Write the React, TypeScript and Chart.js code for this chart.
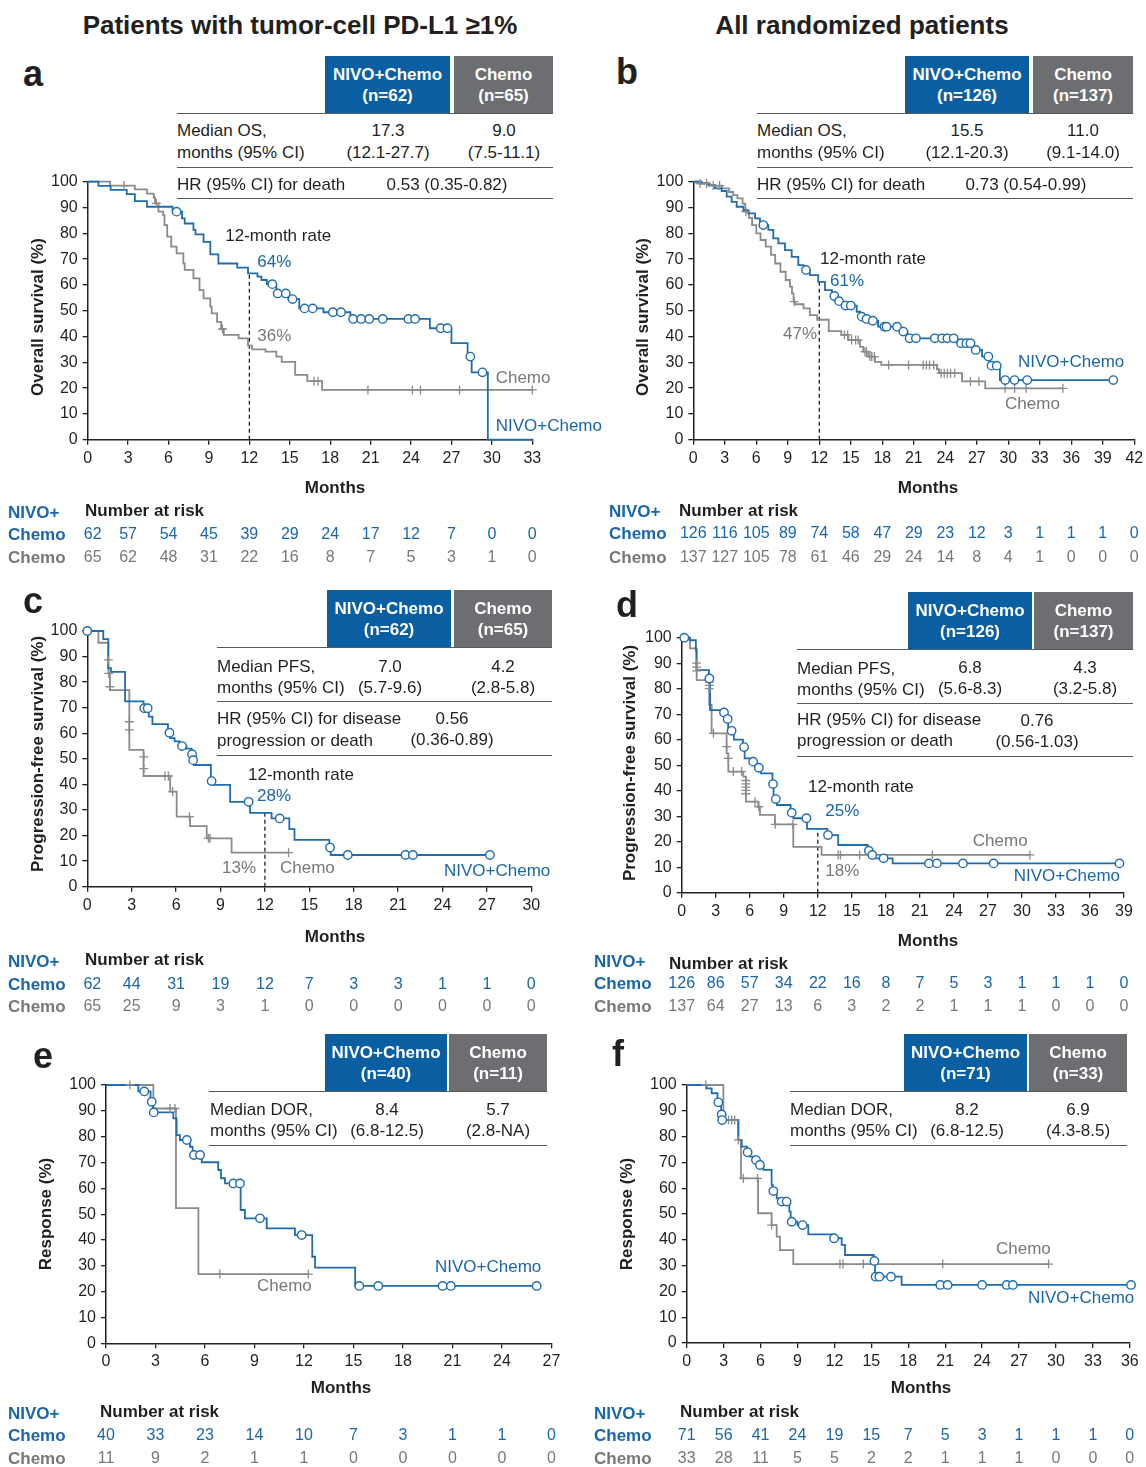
import React, { useEffect, useRef } from 'react';
import { Chart, registerables } from 'chart.js';

Chart.register(...registerables);

const FONT = "'Liberation Sans', Arial, Helvetica, sans-serif";
const BLUE = '#1f6cb0';
const BLUE_TEXT = '#1a66ab';
const BLUE_BOX = '#0a5fa3';
const GRAY_BOX = '#6d6e71';
const GRAY_LINE = '#8a8b8d';
const GRAY_TEXT = '#77787b';
const TXT = '#231f20';
const RULE = '#58595b';

Chart.defaults.font.family = FONT;

type Pt = [number, number];
type Cens = number | Pt;

// ---------------- Panel a: OS, PD-L1 >= 1% ----------------
const aNivoCurve: Pt[] = [[0,100],[0.8,98.4],[1.7,96.8],[2.9,95.2],[3.5,92.5],[4.4,90.3],[6.3,88.4],[7.0,85.8],[7.2,83.8],[7.85,81.3],[8.0,79.6],[8.6,76.7],[9.1,71.8],[9.7,68.3],[11.1,66.7],[11.9,64.5],[12.6,63.2],[12.9,61.9],[13.3,60.3],[14.0,56.7],[14.9,54.5],[15.7,50.9],[17.5,49.4],[19.5,46.8],[25.4,43.2],[27.0,37.4],[28.2,32.2],[28.5,26.1],[29.7,0],[33,0]];
const aNivoCensor: Cens[] = [6.6,13.7,14.1,14.7,15.2,16.1,16.7,18.2,18.8,19.7,20.3,20.9,21.9,23.8,24.3,26.2,26.7,28.4,29.3];
const aChemoCurve: Pt[] = [[0,100],[1.66,98.5],[3.5,97.0],[4.4,95.4],[4.9,93.8],[5.0,91.6],[5.25,88.4],[5.6,87.0],[5.7,83.2],[5.9,78.7],[6.2,74.8],[6.6,72.2],[7.1,68.3],[7.2,65.8],[7.85,62.5],[8.3,58.0],[8.6,54.8],[9.1,51.6],[9.2,49.0],[9.6,45.7],[9.9,42.9],[10.1,40.6],[11.2,39.3],[11.9,36.5],[12.2,35.0],[13.2,34.1],[14.0,32.2],[14.4,30.2],[15.4,25.1],[16.3,22.7],[17.4,19.3],[33,19.3]];
const aChemoCensor: Cens[] = [2.7,5.1,10.0,16.8,17.1,20.8,24.1,24.7,27.6,33];
const aRiskNivo = [62,57,54,45,39,29,24,17,12,7,0,0];
const aRiskChemo = [65,62,48,31,22,16,8,7,5,3,1,0];

// ---------------- Panel b: OS, all randomized ----------------
const bNivoCurve: Pt[] = [[0,100],[0.8,99.4],[1.43,98.7],[2.07,97.4],[2.7,96.4],[3.18,94.2],[3.65,92.2],[4.13,90.3],[4.77,89.0],[5.24,87.7],[5.88,85.8],[6.35,83.2],[7.15,81.3],[7.62,78.0],[8.1,76.1],[8.73,73.5],[9.37,70.9],[10.0,67.7],[10.5,65.8],[11.1,63.8],[11.9,61.2],[12.54,58.0],[13.2,55.7],[13.65,53.7],[14.3,52.0],[15.56,49.6],[15.9,47.7],[16.4,46.8],[16.9,46.1],[17.6,43.8],[19.8,41.9],[20.4,39.3],[25.1,37.4],[26.7,34.8],[27.5,32.2],[28.25,28.7],[29.2,23.1],[40.0,23.1]];
const bNivoCensor: Cens[] = [6.67,10.73,13.43,13.88,14.5,15.0,16.04,16.5,17.1,18.2,18.4,19.4,20.0,20.6,21.2,23.0,23.7,24.2,24.8,25.5,26.0,26.4,26.9,28.1,28.4,28.9,29.7,30.6,31.8,40.0];
const bChemoCurve: Pt[] = [[0,100],[0.5,99.3],[1.5,98.5],[2.7,97.4],[3.4,96.0],[3.8,94.8],[4.2,93.5],[4.7,91.5],[4.95,88.4],[5.3,86.0],[5.6,83.2],[6.0,80.0],[6.4,77.4],[6.9,74.8],[7.4,71.6],[7.8,68.3],[8.3,65.1],[8.8,61.9],[9.2,59.3],[9.4,56.7],[9.55,53.5],[9.68,52.5],[10.5,50.9],[11.1,48.3],[11.8,46.5],[12.9,42.1],[14.1,40.6],[14.76,38.6],[15.88,36.0],[16.19,34.1],[16.67,32.2],[17.3,30.2],[17.9,29.0],[23.2,27.3],[23.4,25.8],[25.6,22.6],[27.8,19.9],[35.2,19.9]];
const bChemoCensor: Cens[] = [0.64,1.27,1.9,2.5,5.0,9.6,14.4,14.7,15.08,15.46,15.7,16.35,16.5,16.83,17.0,17.24,18.6,20.5,21.9,22.2,22.5,22.9,23.6,23.9,24.2,24.5,24.9,26.4,27.2,29.7,30.6,31.7,35.2];
const bRiskNivo = [126,116,105,89,74,58,47,29,23,12,3,1,1,1,0];
const bRiskChemo = [137,127,105,78,61,46,29,24,14,8,4,1,0,0,0];

// ---------------- Panel c: PFS, PD-L1 >= 1% ----------------
const cNivoCurve: Pt[] = [[0,100],[1.08,96.8],[1.42,85.5],[1.6,84.0],[2.55,72.5],[3.8,69.8],[4.15,66.5],[4.4,63.6],[5.45,60.2],[5.6,58.1],[5.9,56.8],[6.25,55.0],[6.7,54.0],[7.05,51.8],[7.12,49.5],[7.2,47.6],[8.35,41.3],[8.5,39.8],[9.65,33.2],[11.0,28.9],[12.45,26.7],[13.65,22.5],[14.0,18.3],[16.35,15.3],[16.45,12.4],[27.2,12.4]];
const cNivoCensor: Cens[] = [0,3.85,4.08,5.55,6.4,7.08,7.15,8.4,10.9,13.0,16.4,17.6,21.5,22.0,27.2];
const cChemoCurve: Pt[] = [[0,100],[0.75,95.4],[1.42,83.4],[1.53,76.9],[2.84,53.5],[3.8,43.3],[5.6,37.2],[6.04,27.4],[6.94,23.7],[8.07,18.9],[9.75,13.3],[13.6,13.3]];
const cChemoCensor: Cens[] = [[1.42,88.7],1.45,[1.53,78.2],[2.84,64.5],[2.84,61.3],[3.82,50.8],[3.82,46.2],5.25,5.48,5.77,6.9,8.18,8.29,13.6];
const cRiskNivo = [62,44,31,19,12,7,3,3,1,1,0];
const cRiskChemo = [65,25,9,3,1,0,0,0,0,0,0];

// ---------------- Panel d: PFS, all randomized ----------------
const dNivoCurve: Pt[] = [[0,100],[0.7,99.0],[1.25,95.0],[1.3,87.3],[2.4,84.0],[2.5,71.6],[3.6,70.7],[3.9,68.1],[4.1,63.5],[4.6,60.0],[5.4,57.1],[5.55,52.7],[6.2,51.4],[6.6,49.0],[7.0,46.8],[8.0,42.6],[8.1,36.7],[8.4,34.4],[9.6,31.4],[9.85,29.2],[11.05,25.0],[12.85,22.6],[13.8,18.7],[16.4,16.5],[16.6,14.8],[16.85,13.5],[18.6,11.5],[38.6,11.5]];
const dNivoCensor: Cens[] = [0.23,2.44,3.73,4.05,4.4,5.5,6.3,6.8,8.05,8.3,9.7,11.0,12.9,16.5,16.8,17.8,21.8,22.5,24.8,27.5,38.6];
const dChemoCurve: Pt[] = [[0,100],[0.73,95.8],[1.32,83.4],[2.43,73.6],[2.64,62.5],[3.96,54.6],[4.11,47.5],[5.43,45.5],[5.66,35.7],[6.75,33.7],[6.9,30.5],[8.22,26.8],[9.84,18.0],[12.33,14.8],[30.7,14.8]];
const dChemoCensor: Cens[] = [[1.32,90.0],[1.32,88.5],[1.32,87.0],[2.43,82.6],[2.43,81.3],[2.43,80.0],2.8,[3.96,57.3],[4.11,52.7],4.55,5.28,[5.66,44.0],[5.66,42.7],[5.66,41.4],[5.66,40.1],[5.66,38.8],6.46,6.8,8.25,9.8,13.8,14.0,15.7,22.1,30.7];
const dRiskNivo = [126,86,57,34,22,16,8,7,5,3,1,1,1,0];
const dRiskChemo = [137,64,27,13,6,3,2,2,1,1,1,0,0,0];

// ---------------- Panel e: DOR, PD-L1 >= 1% ----------------
const eNivoCurve: Pt[] = [[0,100],[1.96,97.5],[2.7,93.5],[2.85,89.4],[4.08,87.1],[4.28,80.6],[4.48,78.7],[5.09,76.1],[5.25,72.9],[5.8,70.1],[6.8,67.1],[6.97,63.9],[7.21,61.9],[8.16,51.6],[8.42,48.4],[9.74,44.5],[11.45,41.9],[12.5,33.5],[12.67,29.3],[15.1,22.2],[26.1,22.2]];
const eNivoCensor: Cens[] = [2.32,2.77,2.89,4.9,5.33,5.7,7.72,8.12,9.33,11.86,15.35,16.5,20.4,20.9,26.1];
const eChemoCurve: Pt[] = [[0,100],[2.87,90.9],[4.24,52.3],[5.6,26.8],[12.26,26.8]];
const eChemoCensor: Cens[] = [1.45,3.88,4.18,6.9,12.26];
const eRiskNivo = [40,33,23,14,10,7,3,1,1,0];
const eRiskChemo = [11,9,2,1,1,0,0,0,0,0];

// ---------------- Panel f: DOR, all randomized ----------------
const fNivoCurve: Pt[] = [[0,100],[1.62,98.7],[2.03,96.8],[2.5,93.3],[2.8,88.6],[2.87,86.4],[4.19,78.7],[4.47,76.1],[4.9,73.9],[5.14,72.2],[5.5,70.9],[5.8,69.0],[6.23,67.1],[6.9,61.2],[7.0,58.9],[7.31,56.1],[7.5,54.8],[8.34,50.9],[8.45,47.0],[9.0,45.7],[9.88,42.1],[11.8,40.6],[12.59,38.0],[12.86,34.1],[15.2,31.8],[15.3,25.7],[17.46,22.5],[36.1,22.5]];
const fNivoCensor: Cens[] = [2.57,2.84,2.88,4.95,5.63,5.95,7.04,7.72,8.12,8.53,9.42,11.97,15.25,15.35,15.65,16.6,20.6,21.2,24.0,26.0,26.5,36.1];
const fChemoCurve: Pt[] = [[0,100],[2.98,86.4],[4.2,78.7],[4.41,63.8],[5.8,50.3],[6.9,45.7],[7.31,41.2],[7.58,36.0],[8.66,30.6],[29.4,30.6]];
const fChemoCensor: Cens[] = [1.55,3.4,3.65,3.9,4.2,4.6,5.75,6.9,12.45,12.7,14.35,20.8,29.4];
const fRiskNivo = [71,56,41,24,19,15,7,5,3,1,1,1,0];
const fRiskChemo = [33,28,11,5,5,2,2,1,1,1,0,0,0];

// ---------------- helpers ----------------
function survAt(curve: Pt[], t: number): number {
  let s = curve[0][1];
  for (const [ti, si] of curve) {
    if (ti <= t + 1e-9) s = si;
    else break;
  }
  return s;
}

interface Note { text: string; t: number; s: number; color: string; }
interface PanelCfg {
  id: string;
  ox: number; oy: number; w: number; h: number;
  padTop: number; padRight: number; padBottom: number; yWidth: number;
  xMax: number;
  nivo: Pt[]; chemo: Pt[]; nivoCens: Cens[]; chemoCens: Cens[];
  riskNivo: number[]; riskChemo: number[];
  landmark: boolean;
  yTitle: string; yTitlePos: [number, number]; xTitlePos: [number, number];
  riskLabelX: number; riskHead: [number, number]; riskYs: [number, number, number]; riskShift: number;
  notes: Note[];
}

const panels: PanelCfg[] = [
  {
    id: 'a', ox: 0, oy: 170, w: 620, h: 405, padTop: 11.7, padRight: 87.7, padBottom: 85.3, yWidth: 87.7, xMax: 33,
    nivo: aNivoCurve, chemo: aChemoCurve, nivoCens: aNivoCensor, chemoCens: aChemoCensor,
    riskNivo: aRiskNivo, riskChemo: aRiskChemo, landmark: true,
    yTitle: 'Overall survival (%)', yTitlePos: [38, 317], xTitlePos: [335, 488],
    riskLabelX: 8, riskHead: [85, 511], riskYs: [513, 535, 558], riskShift: 5,
    notes: [
      { text: '12-month rate', t: 10.21, s: 78.9, color: TXT },
      { text: '64%', t: 12.59, s: 68.9, color: BLUE_TEXT },
      { text: '36%', t: 12.59, s: 40.2, color: GRAY_TEXT },
      { text: 'Chemo', t: 30.28, s: 23.9, color: GRAY_TEXT },
      { text: 'NIVO+Chemo', t: 30.28, s: 5.3, color: BLUE_TEXT },
    ],
  },
  {
    id: 'b', ox: 580, oy: 170, w: 566, h: 405, padTop: 11.7, padRight: 11.7, padBottom: 85.3, yWidth: 113.3, xMax: 42,
    nivo: bNivoCurve, chemo: bChemoCurve, nivoCens: bNivoCensor, chemoCens: bChemoCensor,
    riskNivo: bRiskNivo, riskChemo: bRiskChemo, landmark: true,
    yTitle: 'Overall survival (%)', yTitlePos: [643, 317], xTitlePos: [928, 488],
    riskLabelX: 609, riskHead: [679, 511], riskYs: [512, 534, 558], riskShift: 0,
    notes: [
      { text: '12-month rate', t: 12.07, s: 70.0, color: TXT },
      { text: '61%', t: 13.02, s: 61.5, color: BLUE_TEXT },
      { text: '47%', t: 8.54, s: 41.0, color: GRAY_TEXT },
      { text: 'NIVO+Chemo', t: 30.92, s: 30.1, color: BLUE_TEXT },
      { text: 'Chemo', t: 29.69, s: 13.8, color: GRAY_TEXT },
    ],
  },
  {
    id: 'c', ox: 0, oy: 600, w: 620, h: 420, padTop: 31, padRight: 88.7, padBottom: 83.3, yWidth: 87.3, xMax: 30,
    nivo: cNivoCurve, chemo: cChemoCurve, nivoCens: cNivoCensor, chemoCens: cChemoCensor,
    riskNivo: cRiskNivo, riskChemo: cRiskChemo, landmark: true,
    yTitle: 'Progression-free survival (%)', yTitlePos: [38, 754], xTitlePos: [335, 937],
    riskLabelX: 8, riskHead: [85, 960], riskYs: [962, 985, 1007], riskShift: 5,
    notes: [
      { text: '12-month rate', t: 10.86, s: 43.7, color: TXT },
      { text: '28%', t: 11.47, s: 35.5, color: BLUE_TEXT },
      { text: '13%', t: 9.10, s: 7.3, color: GRAY_TEXT },
      { text: 'Chemo', t: 13.02, s: 7.3, color: GRAY_TEXT },
      { text: 'NIVO+Chemo', t: 24.1, s: 6.1, color: BLUE_TEXT },
    ],
  },
  {
    id: 'd', ox: 580, oy: 600, w: 566, h: 420, padTop: 37.7, padRight: 22, padBottom: 77.3, yWidth: 101.7, xMax: 39,
    nivo: dNivoCurve, chemo: dChemoCurve, nivoCens: dNivoCensor, chemoCens: dChemoCensor,
    riskNivo: dRiskNivo, riskChemo: dRiskChemo, landmark: true,
    yTitle: 'Progression-free survival (%)', yTitlePos: [630, 763], xTitlePos: [928, 941],
    riskLabelX: 594, riskHead: [669, 964], riskYs: [962, 984, 1007], riskShift: 0,
    notes: [
      { text: '12-month rate', t: 11.13, s: 41.5, color: TXT },
      { text: '25%', t: 12.66, s: 32.0, color: BLUE_TEXT },
      { text: '18%', t: 12.66, s: 8.5, color: GRAY_TEXT },
      { text: 'Chemo', t: 25.67, s: 20.3, color: GRAY_TEXT },
      { text: 'NIVO+Chemo', t: 29.28, s: 6.5, color: BLUE_TEXT },
    ],
  },
  {
    id: 'e', ox: 0, oy: 1070, w: 620, h: 397, padTop: 15, padRight: 68.5, padBottom: 73.7, yWidth: 106, xMax: 27,
    nivo: eNivoCurve, chemo: eChemoCurve, nivoCens: eNivoCensor, chemoCens: eChemoCensor,
    riskNivo: eRiskNivo, riskChemo: eRiskChemo, landmark: false,
    yTitle: 'Response (%)', yTitlePos: [46, 1214], xTitlePos: [341, 1388],
    riskLabelX: 8, riskHead: [100, 1412], riskYs: [1414, 1436, 1459], riskShift: 0,
    notes: [
      { text: 'NIVO+Chemo', t: 19.94, s: 29.5, color: BLUE_TEXT },
      { text: 'Chemo', t: 9.15, s: 22.2, color: GRAY_TEXT },
    ],
  },
  {
    id: 'f', ox: 580, oy: 1070, w: 566, h: 397, padTop: 15, padRight: 16.2, padBottom: 74, yWidth: 106.7, xMax: 36,
    nivo: fNivoCurve, chemo: fChemoCurve, nivoCens: fNivoCensor, chemoCens: fChemoCensor,
    riskNivo: fRiskNivo, riskChemo: fRiskChemo, landmark: false,
    yTitle: 'Response (%)', yTitlePos: [627, 1214], xTitlePos: [921, 1388],
    riskLabelX: 594, riskHead: [680, 1412], riskYs: [1414, 1436, 1459], riskShift: 0,
    notes: [
      { text: 'Chemo', t: 25.13, s: 36.4, color: GRAY_TEXT },
      { text: 'NIVO+Chemo', t: 27.73, s: 17.4, color: BLUE_TEXT },
    ],
  },
];

function overlayPlugin(p: PanelCfg) {
  return {
    id: 'overlay' + p.id,
    afterDraw(chart: any) {
      const ctx: CanvasRenderingContext2D = chart.ctx;
      const xs = chart.scales.x;
      const ys = chart.scales.y;
      const put = (text: string, x: number, y: number, font: string, color: string, align: CanvasTextAlign = 'left') => {
        ctx.save();
        ctx.font = font;
        ctx.fillStyle = color;
        ctx.textAlign = align;
        ctx.textBaseline = 'middle';
        ctx.fillText(text, x, y);
        ctx.restore();
      };
      const reg = `17px ${FONT}`;
      const num = `16px ${FONT}`;
      const bold = `bold 17px ${FONT}`;
      for (const n of p.notes) {
        put(n.text, xs.getPixelForValue(n.t), ys.getPixelForValue(n.s), reg, n.color);
      }
      put('Months', p.xTitlePos[0] - p.ox, p.xTitlePos[1] - p.oy, bold, TXT, 'center');
      ctx.save();
      ctx.translate(p.yTitlePos[0] - p.ox, p.yTitlePos[1] - p.oy);
      ctx.rotate(-Math.PI / 2);
      ctx.font = bold;
      ctx.fillStyle = TXT;
      ctx.textAlign = 'center';
      ctx.textBaseline = 'middle';
      ctx.fillText(p.yTitle, 0, 0);
      ctx.restore();
      // number at risk
      const lx = p.riskLabelX - p.ox;
      const [y0, y1, y2] = p.riskYs.map((v) => v - p.oy);
      put('NIVO+', lx, y0, bold, BLUE_TEXT);
      put('Chemo', lx, y1, bold, BLUE_TEXT);
      put('Chemo', lx, y2, bold, GRAY_TEXT);
      put('Number at risk', p.riskHead[0] - p.ox, p.riskHead[1] - p.oy, bold, TXT);
      p.riskNivo.forEach((v, i) => {
        const x = xs.getPixelForValue(i * 3) + (i === 0 ? p.riskShift : 0);
        put(String(v), x, y1, num, BLUE_TEXT, 'center');
      });
      p.riskChemo.forEach((v, i) => {
        const x = xs.getPixelForValue(i * 3) + (i === 0 ? p.riskShift : 0);
        put(String(v), x, y2, num, GRAY_TEXT, 'center');
      });
    },
  };
}

function KMPanel({ p }: { p: PanelCfg }) {
  const ref = useRef<HTMLCanvasElement>(null);
  useEffect(() => {
    const canvas = ref.current;
    if (!canvas) return;
    const toCens = (curve: Pt[], list: Cens[]) =>
      list.map((c) => (Array.isArray(c) ? { x: c[0], y: c[1] } : { x: c, y: survAt(curve, c) }));
    const datasets: any[] = [
      {
        label: 'NIVO+Chemo censored', data: toCens(p.nivo, p.nivoCens), showLine: false,
        pointStyle: 'circle', pointRadius: 4.2, pointBackgroundColor: '#ffffff', pointBorderColor: BLUE,
        pointBorderWidth: 1.4, clip: false,
      },
      {
        label: 'Chemo censored', data: toCens(p.chemo, p.chemoCens), showLine: false,
        pointStyle: 'cross', pointRadius: 4.5, pointBorderColor: GRAY_LINE, pointBorderWidth: 1.3, clip: false,
      },
      {
        label: 'NIVO+Chemo', data: p.nivo.map(([x, y]) => ({ x, y })), stepped: true,
        borderColor: BLUE, borderWidth: 1.8, pointRadius: 0, fill: false, clip: false,
      },
      {
        label: 'Chemo', data: p.chemo.map(([x, y]) => ({ x, y })), stepped: true,
        borderColor: GRAY_LINE, borderWidth: 1.8, pointRadius: 0, fill: false, clip: false,
      },
    ];
    if (p.landmark) {
      datasets.push({
        label: '12-month', data: [{ x: 12, y: 0 }, { x: 12, y: survAt(p.nivo, 12) }],
        borderColor: TXT, borderWidth: 1.3, borderDash: [4, 3], pointRadius: 0, fill: false, clip: false,
      });
    }
    const axisCommon = {
      grid: { display: true, drawOnChartArea: false, drawTicks: true, tickLength: 5, color: TXT, lineWidth: 1.3 },
      border: { display: true, color: TXT, width: 1.5 },
    };
    const chart = new Chart(canvas, {
      type: 'line',
      data: { datasets },
      options: {
        responsive: false,
        animation: false,
        events: [],
        layout: { padding: { left: 0, top: p.padTop, right: p.padRight, bottom: p.padBottom } },
        plugins: { legend: { display: false }, tooltip: { enabled: false }, title: { display: false } },
        scales: {
          x: {
            type: 'linear', min: 0, max: p.xMax,
            ticks: { stepSize: 3, autoSkip: false, maxRotation: 0, padding: 4, color: TXT, font: { size: 16, family: FONT } },
            ...axisCommon,
            afterFit: (s: any) => { s.height = 50; s.paddingLeft = 0; s.paddingRight = 0; },
          },
          y: {
            type: 'linear', min: 0, max: 100,
            ticks: { stepSize: 10, padding: 5, color: TXT, font: { size: 16, family: FONT } },
            ...axisCommon,
            afterFit: (s: any) => { s.width = p.yWidth; s.paddingTop = 0; s.paddingBottom = 0; },
          },
        },
      } as any,
      plugins: [overlayPlugin(p)],
    });
    return () => chart.destroy();
  }, [p]);
  return (
    <canvas
      ref={ref}
      width={p.w}
      height={p.h}
      style={{ position: 'absolute', left: p.ox, top: p.oy, width: p.w, height: p.h }}
    />
  );
}

// ---------------- header tables ----------------
interface Cell { x: number; y: number; text: string; align: 'left' | 'center'; }
interface TableCfg {
  id: string; blue: [number, number]; gray: [number, number]; top: number;
  x0: number; x1: number; lines: number[]; n: [string, string]; cells: Cell[];
}

const tables: TableCfg[] = [
  {
    id: 'ta', blue: [325, 450], gray: [454, 553], top: 56, x0: 177, x1: 553, lines: [114, 168, 199], n: ['(n=62)', '(n=65)'],
    cells: [
      { x: 177, y: 131, text: 'Median OS,', align: 'left' },
      { x: 177, y: 153, text: 'months (95% CI)', align: 'left' },
      { x: 388, y: 131, text: '17.3', align: 'center' },
      { x: 388, y: 153, text: '(12.1-27.7)', align: 'center' },
      { x: 504, y: 131, text: '9.0', align: 'center' },
      { x: 504, y: 153, text: '(7.5-11.1)', align: 'center' },
      { x: 177, y: 185, text: 'HR (95% CI) for death', align: 'left' },
      { x: 447, y: 185, text: '0.53 (0.35-0.82)', align: 'center' },
    ],
  },
  {
    id: 'tb', blue: [905, 1029], gray: [1033, 1133], top: 56, x0: 757, x1: 1133, lines: [114, 168, 199], n: ['(n=126)', '(n=137)'],
    cells: [
      { x: 757, y: 131, text: 'Median OS,', align: 'left' },
      { x: 757, y: 153, text: 'months (95% CI)', align: 'left' },
      { x: 967, y: 131, text: '15.5', align: 'center' },
      { x: 967, y: 153, text: '(12.1-20.3)', align: 'center' },
      { x: 1083, y: 131, text: '11.0', align: 'center' },
      { x: 1083, y: 153, text: '(9.1-14.0)', align: 'center' },
      { x: 757, y: 185, text: 'HR (95% CI) for death', align: 'left' },
      { x: 1026, y: 185, text: '0.73 (0.54-0.99)', align: 'center' },
    ],
  },
  {
    id: 'tc', blue: [327, 451], gray: [454, 552], top: 590, x0: 217, x1: 552, lines: [648, 702, 756], n: ['(n=62)', '(n=65)'],
    cells: [
      { x: 217, y: 667, text: 'Median PFS,', align: 'left' },
      { x: 217, y: 688, text: 'months (95% CI)', align: 'left' },
      { x: 390, y: 667, text: '7.0', align: 'center' },
      { x: 390, y: 688, text: '(5.7-9.6)', align: 'center' },
      { x: 503, y: 667, text: '4.2', align: 'center' },
      { x: 503, y: 688, text: '(2.8-5.8)', align: 'center' },
      { x: 217, y: 719, text: 'HR (95% CI) for disease', align: 'left' },
      { x: 217, y: 741, text: 'progression or death', align: 'left' },
      { x: 452, y: 719, text: '0.56', align: 'center' },
      { x: 452, y: 740, text: '(0.36-0.89)', align: 'center' },
    ],
  },
  {
    id: 'td', blue: [908, 1032], gray: [1034, 1133], top: 592, x0: 797, x1: 1133, lines: [650, 704, 757], n: ['(n=126)', '(n=137)'],
    cells: [
      { x: 797, y: 669, text: 'Median PFS,', align: 'left' },
      { x: 797, y: 690, text: 'months (95% CI)', align: 'left' },
      { x: 970, y: 668, text: '6.8', align: 'center' },
      { x: 970, y: 689, text: '(5.6-8.3)', align: 'center' },
      { x: 1085, y: 668, text: '4.3', align: 'center' },
      { x: 1085, y: 689, text: '(3.2-5.8)', align: 'center' },
      { x: 797, y: 720, text: 'HR (95% CI) for disease', align: 'left' },
      { x: 797, y: 741, text: 'progression or death', align: 'left' },
      { x: 1037, y: 721, text: '0.76', align: 'center' },
      { x: 1037, y: 742, text: '(0.56-1.03)', align: 'center' },
    ],
  },
  {
    id: 'te', blue: [325, 447], gray: [449, 547], top: 1034, x0: 209, x1: 547, lines: [1092, 1146], n: ['(n=40)', '(n=11)'],
    cells: [
      { x: 210, y: 1110, text: 'Median DOR,', align: 'left' },
      { x: 210, y: 1131, text: 'months (95% CI)', align: 'left' },
      { x: 387, y: 1110, text: '8.4', align: 'center' },
      { x: 387, y: 1131, text: '(6.8-12.5)', align: 'center' },
      { x: 498, y: 1110, text: '5.7', align: 'center' },
      { x: 498, y: 1131, text: '(2.8-NA)', align: 'center' },
    ],
  },
  {
    id: 'tf', blue: [904, 1027], gray: [1029, 1127], top: 1034, x0: 790, x1: 1127, lines: [1092, 1146], n: ['(n=71)', '(n=33)'],
    cells: [
      { x: 790, y: 1110, text: 'Median DOR,', align: 'left' },
      { x: 790, y: 1131, text: 'months (95% CI)', align: 'left' },
      { x: 967, y: 1110, text: '8.2', align: 'center' },
      { x: 967, y: 1131, text: '(6.8-12.5)', align: 'center' },
      { x: 1078, y: 1110, text: '6.9', align: 'center' },
      { x: 1078, y: 1131, text: '(4.3-8.5)', align: 'center' },
    ],
  },
];

function Txt(props: { x: number; y: number; text: string; size?: number; bold?: boolean; color?: string; align?: 'left' | 'center' }) {
  const { x, y, text, size = 17, bold = false, color = TXT, align = 'left' } = props;
  const lh = Math.round(size * 1.2);
  const w = 900;
  const left = align === 'center' ? x - w / 2 : x;
  return (
    <div
      style={{
        position: 'absolute', left, top: y - lh / 2, width: w, height: lh, lineHeight: lh + 'px',
        fontSize: size, fontWeight: bold ? 700 : 400, color, textAlign: align, whiteSpace: 'nowrap',
        fontFamily: FONT, pointerEvents: 'none',
      }}
    >
      {text}
    </div>
  );
}

function HeaderTable({ t }: { t: TableCfg }) {
  const bh = 58;
  return (
    <>
      <div style={{ position: 'absolute', left: t.blue[0], top: t.top, width: t.blue[1] - t.blue[0], height: bh, background: BLUE_BOX }} />
      <div style={{ position: 'absolute', left: t.gray[0], top: t.top, width: t.gray[1] - t.gray[0], height: bh, background: GRAY_BOX }} />
      <Txt x={(t.blue[0] + t.blue[1]) / 2} y={t.top + 19} text="NIVO+Chemo" bold color="#ffffff" align="center" />
      <Txt x={(t.blue[0] + t.blue[1]) / 2} y={t.top + 40} text={t.n[0]} bold color="#ffffff" align="center" />
      <Txt x={(t.gray[0] + t.gray[1]) / 2} y={t.top + 19} text="Chemo" bold color="#ffffff" align="center" />
      <Txt x={(t.gray[0] + t.gray[1]) / 2} y={t.top + 40} text={t.n[1]} bold color="#ffffff" align="center" />
      {t.lines.map((y) => (
        <div key={y} style={{ position: 'absolute', left: t.x0, top: y - 0.75, width: t.x1 - t.x0, height: 0, borderTop: `1.5px solid ${RULE}` }} />
      ))}
      {t.cells.map((c, i) => (
        <Txt key={i} x={c.x} y={c.y} text={c.text} align={c.align} />
      ))}
    </>
  );
}

const letters: { l: string; x: number; y: number }[] = [
  { l: 'a', x: 23, y: 73 },
  { l: 'b', x: 616, y: 71 },
  { l: 'c', x: 23, y: 600 },
  { l: 'd', x: 616, y: 604 },
  { l: 'e', x: 33, y: 1055 },
  { l: 'f', x: 612, y: 1053 },
];

export default function App() {
  useEffect(() => {
    document.body.style.margin = '0';
    document.body.style.background = '#ffffff';
  }, []);
  return (
    <div style={{ position: 'absolute', left: 0, top: 0, width: 1146, height: 1467, background: '#ffffff', overflow: 'hidden', fontFamily: FONT }}>
      {panels.map((p) => (
        <KMPanel key={p.id} p={p} />
      ))}
      <Txt x={300} y={25} text="Patients with tumor-cell PD-L1 ≥1%" size={26} bold align="center" />
      <Txt x={862} y={25} text="All randomized patients" size={26} bold align="center" />
      {letters.map((L) => (
        <Txt key={L.l} x={L.x} y={L.y} text={L.l} size={36} bold />
      ))}
      {tables.map((t) => (
        <HeaderTable key={t.id} t={t} />
      ))}
    </div>
  );
}
